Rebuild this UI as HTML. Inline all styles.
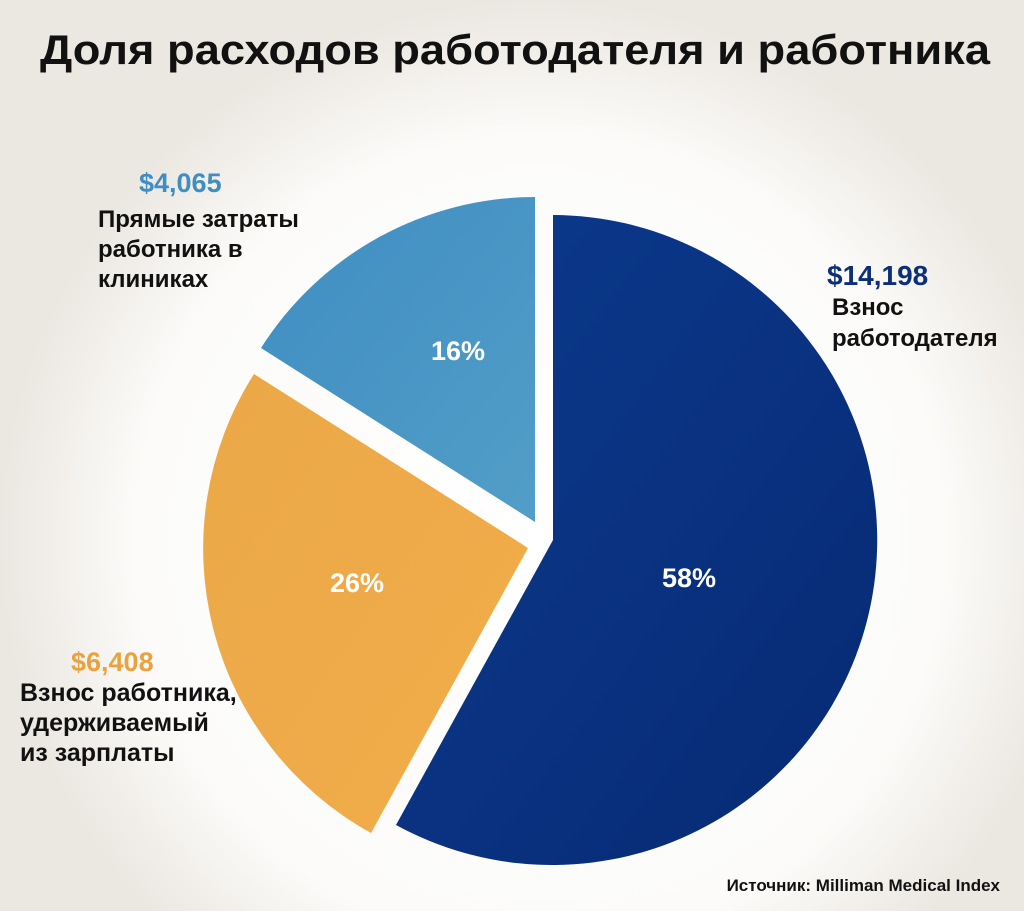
<!DOCTYPE html>
<html><head><meta charset="utf-8"><style>
html,body{margin:0;padding:0}
body{width:1024px;height:911px;overflow:hidden;background:#ebe7e1;font-family:"Liberation Sans",sans-serif}
</style></head><body>
<svg width="1024" height="911" viewBox="0 0 1024 911" xmlns="http://www.w3.org/2000/svg" style="position:absolute;left:0;top:0">
<defs>
<radialGradient id="bg" cx="540" cy="540" r="540" gradientUnits="userSpaceOnUse">
<stop offset="0" stop-color="#ffffff"/><stop offset="0.75" stop-color="#fcfbf9"/><stop offset="1" stop-color="#ebe7e1"/>
</radialGradient>
<linearGradient id="gb" x1="0" y1="0" x2="1" y2="1"><stop offset="0" stop-color="#0c3a8e"/><stop offset="1" stop-color="#072a73"/></linearGradient>
<linearGradient id="gl" x1="0" y1="0" x2="1" y2="1"><stop offset="0" stop-color="#3f8dc2"/><stop offset="1" stop-color="#529ec8"/></linearGradient>
<linearGradient id="go" x1="0" y1="0" x2="1" y2="1"><stop offset="0" stop-color="#eba847"/><stop offset="1" stop-color="#f2ad4a"/></linearGradient>
</defs>
<rect width="1024" height="911" fill="url(#bg)"/>
<path d="M553,540 L553,215 A325,325 0 1,1 396,825 Z" fill="url(#gb)"/>
<path d="M528,548 L371,833 A325,325 0 0,1 254,374 Z" fill="url(#go)"/>
<path d="M535,522 L261,348 A325,325 0 0,1 535,197 Z" fill="url(#gl)"/>
<g font-family="Liberation Sans, sans-serif" font-weight="bold">
<text x="40" y="64" font-size="42" fill="#111" textLength="950" lengthAdjust="spacingAndGlyphs">Доля расходов работодателя и работника</text>
<text x="458" y="360" text-anchor="middle" font-size="27" fill="#fff">16%</text>
<text x="357" y="592" text-anchor="middle" font-size="27" fill="#fff">26%</text>
<text x="689" y="587" text-anchor="middle" font-size="27" fill="#fff">58%</text>
<text x="139" y="192" font-size="27" fill="#3f8dc2">$4,065</text>
<g font-size="24" fill="#111">
<text x="98" y="227">Прямые затраты</text>
<text x="98" y="257">работника в</text>
<text x="98" y="287">клиниках</text>
</g>
<text x="827" y="285" font-size="28" fill="#0c2f7a">$14,198</text>
<g font-size="24" fill="#111">
<text x="832" y="315">Взнос</text>
<text x="832" y="346">работодателя</text>
</g>
<text x="71" y="671" font-size="27" fill="#e8a23f">$6,408</text>
<g font-size="25" fill="#111">
<text x="20" y="701">Взнос работника,</text>
<text x="20" y="731">удерживаемый</text>
<text x="20" y="761">из зарплаты</text>
</g>
<text x="1000" y="891" text-anchor="end" font-size="17" fill="#111">Источник: Milliman Medical Index</text>
</g>
</svg>
</body></html>
